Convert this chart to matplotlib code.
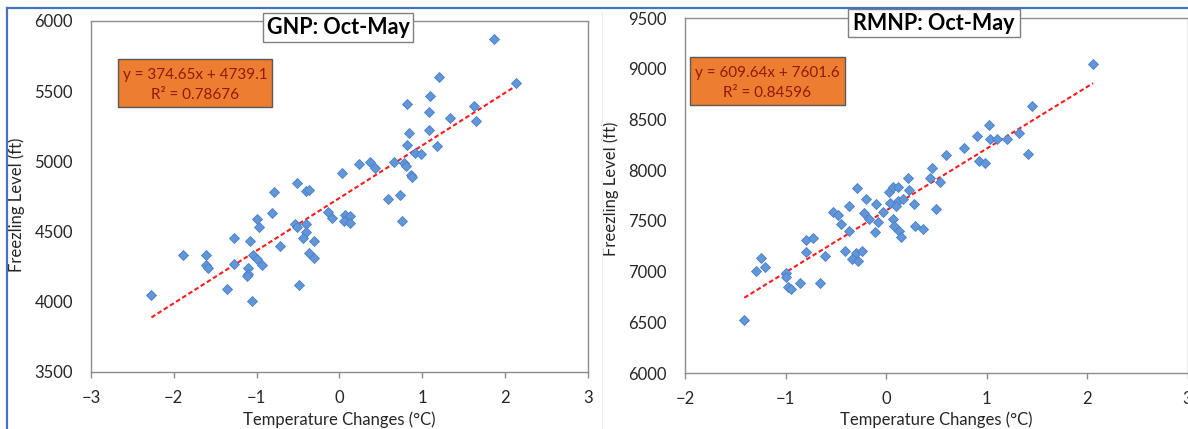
"""
Freezing level vs temperature change, GNP and RMNP (Oct-May)
"""
import matplotlib
matplotlib.use("Agg")
import matplotlib.pyplot as plt
from matplotlib.lines import Line2D
from matplotlib.patches import Rectangle

plt.rcParams['font.family'] = ['Lato', 'DejaVu Sans']

# GNP temperature change (deg C) and freezing level (ft)
gnp_temp = [1.86, 2.13, 1.20, 1.09, 0.82, 1.63, 1.08, 1.33, 1.65, 1.08,
            0.835, 0.81, 1.18, 0.91, 0.99, 0.24, 0.37, 0.43, 0.66, 0.78,
            0.80, 0.86, 0.87, 0.03, 0.58, 0.735, -0.51, -0.40, -0.37, -0.795,
            -0.81, -0.14, -1.00, -0.09, 0.07, 0.13, 0.05, 0.13, 0.75, -0.97,
            -0.54, -0.51, -0.41, -0.41, -0.44, -0.31, -1.27, -1.08, -0.72, -1.89,
            -1.61, -1.61, -1.59, -1.27, -1.04, -0.99, -0.94, -0.37, -0.31, -1.10,
            -1.11, -1.12, -0.49, -1.36, -1.06, -2.27]
gnp_level = [5872, 5561, 5599, 5466, 5409, 5395, 5352, 5312, 5286, 5221,
             5202, 5117, 5112, 5058, 5055, 4982, 4994, 4955, 4996, 4987,
             4970, 4903, 4887, 4920, 4732, 4758, 4844, 4789, 4794, 4780,
             4635, 4642, 4590, 4595, 4618, 4611, 4578, 4563, 4578, 4531,
             4554, 4531, 4554, 4495, 4457, 4435, 4455, 4435, 4400, 4331,
             4333, 4262, 4239, 4269, 4333, 4303, 4262, 4345, 4314, 4243,
             4198, 4186, 4120, 4089, 4008, 4051]

# RMNP temperature change (deg C) and freezing level (ft)
rmnp_temp = [2.06, 1.45, 1.02, 0.91, 1.03, 1.10, 1.20, 1.32, 1.41, 0.78,
             0.60, 0.925, 0.98, 0.455, 0.44, 0.535, 0.215, 0.23, -0.285, 0.03,
             0.07, 0.12, -0.20, -0.10, 0.037, 0.12, 0.17, 0.28, -0.37, 0.50,
             0.10, -0.527, -0.48, -0.22, -0.17, -0.08, -0.03, 0.07, 0.08, 0.13,
             0.146, 0.29, 0.365, -0.106, -0.45, -0.37, -0.80, -0.73, -0.80, -0.61,
             -0.405, -0.30, -0.24, -0.34, -0.275, -1.246, -1.29, -1.20, -0.995, -0.995,
             -0.98, -0.95, -0.86, -0.66, -1.41]
rmnp_level = [9046, 8632, 8445, 8337, 8307, 8307, 8307, 8363, 8159, 8215,
              8146, 8093, 8067, 8024, 7919, 7886, 7919, 7804, 7827, 7788,
              7831, 7831, 7716, 7669, 7676, 7699, 7716, 7663, 7650, 7617,
              7646, 7590, 7558, 7574, 7515, 7489, 7590, 7515, 7449, 7400,
              7338, 7449, 7420, 7390, 7466, 7403, 7311, 7331, 7196, 7157,
              7203, 7180, 7203, 7121, 7107, 7137, 7006, 7048, 6983, 6943,
              6845, 6825, 6890, 6890, 6523]

# linear fits as reported on the chart
gnp_fit = (374.65, 4739.1, 0.78676)
rmnp_fit = (609.64, 7601.6, 0.84596)

SPINE = '#8c8c8c'
MARKER_FACE = '#6197d9'
MARKER_EDGE = '#4a7fc6'
BOX_ORANGE = '#ed7d31'
EQ_TEXT = '#8e1b0e'
TXT = '#262626'


def scatter_panel(ax, temp, level, fit, title, ylim, xlim, eq_box, title_box):
    """One Excel-style scatter with trendline, equation box and title box"""
    slope, icpt, r2 = fit
    ax.plot(temp, level, linestyle='none', marker='D', markersize=4.6,
            markerfacecolor=MARKER_FACE, markeredgecolor=MARKER_EDGE,
            markeredgewidth=0.6, zorder=3)
    x0, x1 = min(temp), max(temp)
    ax.plot([x0, x1], [slope * x0 + icpt, slope * x1 + icpt],
            color='#ff1a1a', linewidth=1.5, linestyle=(0, (2.2, 1.3)), zorder=2)

    ax.set_xlim(*xlim)
    ax.set_ylim(*ylim)
    ax.set_xticks(range(xlim[0], xlim[1] + 1))
    ax.set_yticks(range(ylim[0], ylim[1] + 1, 500))
    for sp in ax.spines.values():
        sp.set_color(SPINE)
        sp.set_linewidth(1.0)
    ax.tick_params(axis='x', length=4, width=1, color=SPINE, pad=9,
                   labelsize=12, labelcolor=TXT)
    ax.tick_params(axis='y', length=0, pad=13, labelsize=12, labelcolor=TXT)

    ax.set_xlabel('Temperature Changes (°C)', fontsize=12, color=TXT)
    ax.set_ylabel('Freezling Level (ft)', fontsize=12, color=TXT)

    # equation / R² box
    bx0, by0, bx1, by1 = eq_box
    ax.add_patch(Rectangle((bx0, by0), bx1 - bx0, by1 - by0, transform=ax.transAxes,
                           facecolor=BOX_ORANGE, edgecolor='#595959', linewidth=1.0,
                           zorder=4, clip_on=False))
    cx = (bx0 + bx1) / 2
    h = by1 - by0
    ax.text(cx, by0 + h * 0.67, 'y = %.2fx + %.1f' % (slope, icpt), transform=ax.transAxes,
            ha='center', va='center', fontsize=11, color=EQ_TEXT, zorder=5)
    ax.text(cx, by0 + h * 0.25, 'R² = %.5f' % r2, transform=ax.transAxes,
            ha='center', va='center', fontsize=11, color=EQ_TEXT, zorder=5)

    # title in its own framed box
    tx0, ty0, tx1, ty1 = title_box
    ax.add_patch(Rectangle((tx0, ty0), tx1 - tx0, ty1 - ty0, transform=ax.transAxes,
                           facecolor='white', edgecolor='#7f7f7f', linewidth=1.0,
                           zorder=4, clip_on=False))
    ax.text((tx0 + tx1) / 2, (ty0 + ty1) / 2, title, transform=ax.transAxes,
            ha='center', va='center', fontsize=15.5, fontweight='bold',
            color='black', zorder=5)


def main():
    fig = plt.figure(figsize=(11.88, 4.29), dpi=100)
    ax1 = fig.add_axes([0.0766, 0.1329, 0.4183, 0.8182])
    ax2 = fig.add_axes([0.5766, 0.1305, 0.4230, 0.8275])

    scatter_panel(ax1, gnp_temp, gnp_level, gnp_fit, 'GNP: Oct-May',
                  (3500, 6000), (-3, 3),
                  (0.054, 0.755, 0.364, 0.892), (0.346, 0.940, 0.648, 1.023))
    scatter_panel(ax2, rmnp_temp, rmnp_level, rmnp_fit, 'RMNP: Oct-May',
                  (6000, 9500), (-2, 3),
                  (0.010, 0.755, 0.318, 0.890), (0.324, 0.946, 0.667, 1.025))

    ax1.yaxis.set_label_coords(-0.133, 0.476)
    ax2.yaxis.set_label_coords(-0.131, 0.52)
    ax1.xaxis.set_label_coords(0.5, -0.112)
    ax2.xaxis.set_label_coords(0.5, -0.108)

    # slide frame and faint divider between the two charts
    blue = '#4472c4'
    fig.add_artist(Line2D([7 / 1188, 1], [1 - 8 / 429, 1 - 8 / 429],
                          transform=fig.transFigure, color=blue, linewidth=1.6))
    fig.add_artist(Line2D([7 / 1188, 7 / 1188], [0, 1 - 8 / 429],
                          transform=fig.transFigure, color=blue, linewidth=1.6))
    fig.add_artist(Line2D([602 / 1188, 602 / 1188], [0, 1 - 12 / 429],
                          transform=fig.transFigure, color='#eeeeee', linewidth=0.8))

    fig.savefig('out.png', dpi=100)


main()
